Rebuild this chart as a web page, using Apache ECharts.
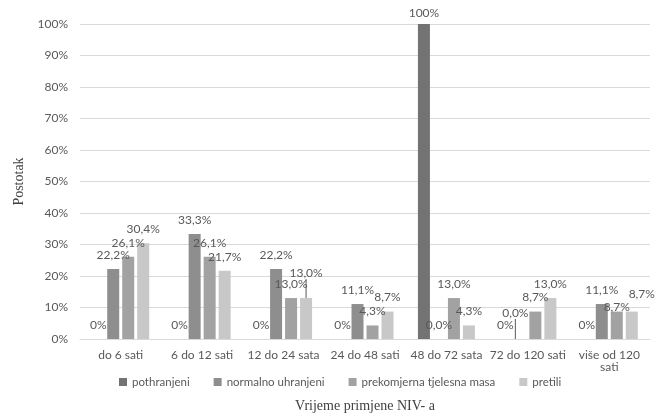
<!DOCTYPE html>
<html>
<head>
<meta charset="utf-8">
<script src="https://cdn.jsdelivr.net/npm/echarts@6/dist/echarts.min.js"></script>
<style>html,body{margin:0;padding:0;background:#fff}#c{width:664px;height:414px}</style>
</head>
<body>
<div id="c"></div>
<script>
const categories = ['do 6 sati', '6 do 12 sati', '12 do 24 sata', '24 do 48 sati', '48 do 72 sata', '72 do 120 sati', 'više od 120 sati'];
const seriesNames = ['pothranjeni', 'normalno uhranjeni', 'prekomjerna tjelesna masa', 'pretili'];
const pothranjeni = [0, 0, 0, 0, 100, 0, 0];
const normalnoUhranjeni = [22.2, 33.3, 22.2, 11.1, 0.0, 0.0, 11.1];
const prekomjerna = [26.1, 26.1, 13.0, 4.3, 13.0, 8.7, 8.7];
const pretili = [30.4, 21.7, 13.0, 8.7, 4.3, 13.0, 8.7];
const yTicks = [0, 10, 20, 30, 40, 50, 60, 70, 80, 90, 100];

// manual label nudges (as in the original, where overlapping labels were moved by hand)
const labelNudges = { '0-4': [0, 3, false], '3-2': [0, -11, true], '1-5': [-5, -12, true], '2-6': [0, 10, false], '3-6': [10, -3, false] };

const colors = ['#737373', '#8e8e8e', '#a2a2a2', '#c8c8c8'];
const font = 'Lato, "Open Sans", sans-serif';
const fmtInt = p => p.value + '%';
const fmtDec = p => p.value.toFixed(1).replace('.', ',') + '%';
const labelBase = { show: true, position: 'top', color: '#595959', fontSize: 12, fontFamily: font, distance: 8 };

const allData = [pothranjeni, normalnoUhranjeni, prekomjerna, pretili];
const chart = echarts.init(document.getElementById('c'));
chart.setOption({
  animation: false,
  color: colors,
  grid: { left: 80, right: 14, top: 24, bottom: 75, outerBoundsMode: 'none', containLabel: false },
  legend: {
    top: 371, left: 114, icon: 'rect', itemWidth: 8, itemHeight: 8, itemGap: 24,
    textStyle: { color: '#595959', fontSize: 11.5, fontFamily: font },
    data: seriesNames
  },
  xAxis: {
    type: 'category', data: categories,
    axisLine: { lineStyle: { color: '#d9d9d9' } },
    axisTick: { show: false },
    axisLabel: { color: '#595959', fontSize: 12, fontFamily: font, margin: 10, interval: 0,
      formatter: v => v === 'više od 120 sati' ? 'više od 120\nsati' : v },
    name: 'Vrijeme primjene NIV- a', nameLocation: 'middle', nameGap: 60,
    nameTextStyle: { color: '#404040', fontSize: 14, fontFamily: '"Liberation Serif", serif' }
  },
  yAxis: {
    type: 'value', min: yTicks[0], max: yTicks[yTicks.length - 1], interval: 10,
    axisLine: { show: false }, axisTick: { show: false },
    splitLine: { lineStyle: { color: '#d9d9d9' } },
    axisLabel: { color: '#595959', fontSize: 12, fontFamily: font, margin: 12, formatter: '{value}%' },
    name: 'Postotak', nameLocation: 'middle', nameGap: 54,
    nameTextStyle: { color: '#404040', fontSize: 14, fontFamily: '"Liberation Serif", serif' }
  },
  series: seriesNames.map((n, i) => ({
    name: n, type: 'bar',
    data: allData[i].map((v, j) => {
      const nd = labelNudges[i + '-' + j];
      return nd && nd[2] ? { value: v, labelLine: { show: true, lineStyle: { color: '#595959', width: 1 } } } : v;
    }),
    barWidth: 12, barGap: '25%',
    label: Object.assign({}, labelBase, { formatter: i === 0 ? fmtInt : fmtDec }),
    labelLine: { show: false, lineStyle: { color: '#595959', width: 1 } },
    labelLayout: p => {
      const nd = labelNudges[p.seriesIndex + '-' + p.dataIndex];
      return nd ? { dx: nd[0], dy: nd[1] } : {};
    }
  }))
});
</script>
</body>
</html>
